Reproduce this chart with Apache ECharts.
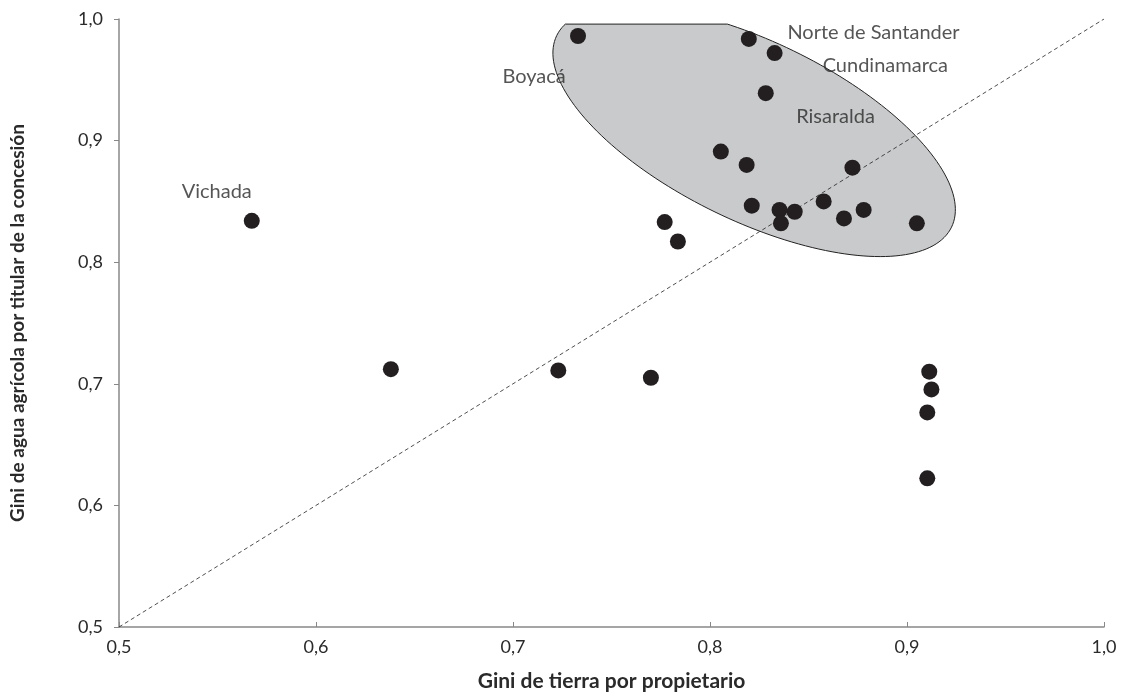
<!DOCTYPE html>
<html><head><meta charset="utf-8">
<script src="https://cdn.jsdelivr.net/npm/echarts@6/dist/echarts.min.js"></script>
<style>html,body{margin:0;padding:0;background:#fff}#c{width:1122px;height:697px}</style>
</head><body><div id="c"></div>
<script>
// Data (Gini de tierra, Gini de agua)
const giniTierra = [0.733,0.8197,0.8328,0.8283,0.8055,0.8186,0.8723,0.8212,0.8353,0.843,0.836,0.8577,0.868,0.878,0.905,0.777,0.7837,0.5674,0.638,0.723,0.770,0.9113,0.9124,0.9103,0.9103];
const giniAgua   = [0.986,0.9836,0.972,0.939,0.891,0.880,0.8777,0.8465,0.843,0.8415,0.832,0.850,0.836,0.843,0.832,0.833,0.817,0.834,0.712,0.711,0.705,0.710,0.6954,0.6765,0.6223];
const xTicks = [0.5,0.6,0.7,0.8,0.9,1.0];
const yTicks = [0.5,0.6,0.7,0.8,0.9,1.0];
const labelNames = ['Norte de Santander','Cundinamarca','Boyacá','Risaralda','Vichada'];
const labelX = [0.883,0.889,0.7107,0.8637,0.5496];
const labelY = [0.9885,0.962,0.953,0.920,0.858];
// Highlight ellipse (data space): centre, two conjugate semi-axis vectors, top clip
const ellCenter = [0.8224,0.9076];
const ellA = [0.1002,-0.0788];
const ellB = [-0.01987,-0.0663];
const ellClipY = 0.9958;

const font = 'Lato, "Open Sans", sans-serif';
const fmt = v => v.toFixed(1).replace('.', ',');
const chart = echarts.init(document.getElementById('c'));
chart.setOption({
  animation:false,
  grid:{left:117,right:18,top:19,bottom:69},
  xAxis:{type:'value',min:xTicks[0],max:xTicks[xTicks.length-1],interval:0.1,
    name:'Gini de tierra por propietario',nameLocation:'middle',nameGap:44,
    nameTextStyle:{fontFamily:font,fontWeight:'bold',fontSize:21,color:'#2a2a2a'},
    axisLine:{show:true,lineStyle:{color:'#888',width:1.5}},
    axisTick:{show:true,inside:true,length:5,lineStyle:{color:'#888'}},
    axisLabel:{formatter:fmt,fontFamily:font,fontSize:18,color:'#2a2a2a',margin:11},
    splitLine:{show:false}},
  yAxis:{type:'value',min:yTicks[0],max:yTicks[yTicks.length-1],interval:0.1,
    name:'Gini de agua agrícola por titular de la concesión',nameLocation:'middle',nameGap:92,
    nameTextStyle:{fontFamily:font,fontWeight:'bold',fontSize:19,color:'#2a2a2a'},
    axisLine:{show:true,lineStyle:{color:'#888',width:1.5}},
    axisTick:{show:true,inside:false,length:5,lineStyle:{color:'#888'}},
    axisLabel:{formatter:fmt,fontFamily:font,fontSize:18,color:'#2a2a2a',margin:16},
    splitLine:{show:false}},
  series:[
    {type:'custom',z:1,silent:true,data:[0],
      renderItem:function(params,api){
        const clipPx = api.coord([0.5,ellClipY])[1];
        const pts=[];
        for(let i=0;i<180;i++){
          const t=i/180*Math.PI*2;
          pts.push(api.coord([ellCenter[0]+Math.cos(t)*ellA[0]+Math.sin(t)*ellB[0],
                              ellCenter[1]+Math.cos(t)*ellA[1]+Math.sin(t)*ellB[1]]));
        }
        const out=[];
        for(let i=0;i<pts.length;i++){
          const p=pts[i], q=pts[(i+1)%pts.length];
          const pin=p[1]>=clipPx, qin=q[1]>=clipPx;
          if(pin) out.push(p);
          if(pin!==qin){
            const r=(clipPx-p[1])/(q[1]-p[1]);
            out.push([p[0]+r*(q[0]-p[0]),clipPx]);
          }
        }
        return {type:'polygon',shape:{points:out},style:{fill:'#c9cacb',stroke:'#222',lineWidth:1}};
      }},
    {type:'line',z:2,silent:true,symbol:'none',data:[[0.5,0.5],[1.0,1.0]],
      lineStyle:{color:'#222',width:0.8,type:[4,3]}},
    {type:'scatter',z:3,symbolSize:16,itemStyle:{color:'#231f20',opacity:1},
      data:giniTierra.map((x,i)=>[x,giniAgua[i]])},
    {type:'scatter',z:4,symbolSize:0,silent:true,
      data:labelNames.map((n,i)=>({value:[labelX[i],labelY[i]],name:n})),
      label:{show:true,position:'inside',formatter:'{b}',fontFamily:font,fontSize:20,color:'#2a2a2a'}}
  ]
});
</script></body></html>
